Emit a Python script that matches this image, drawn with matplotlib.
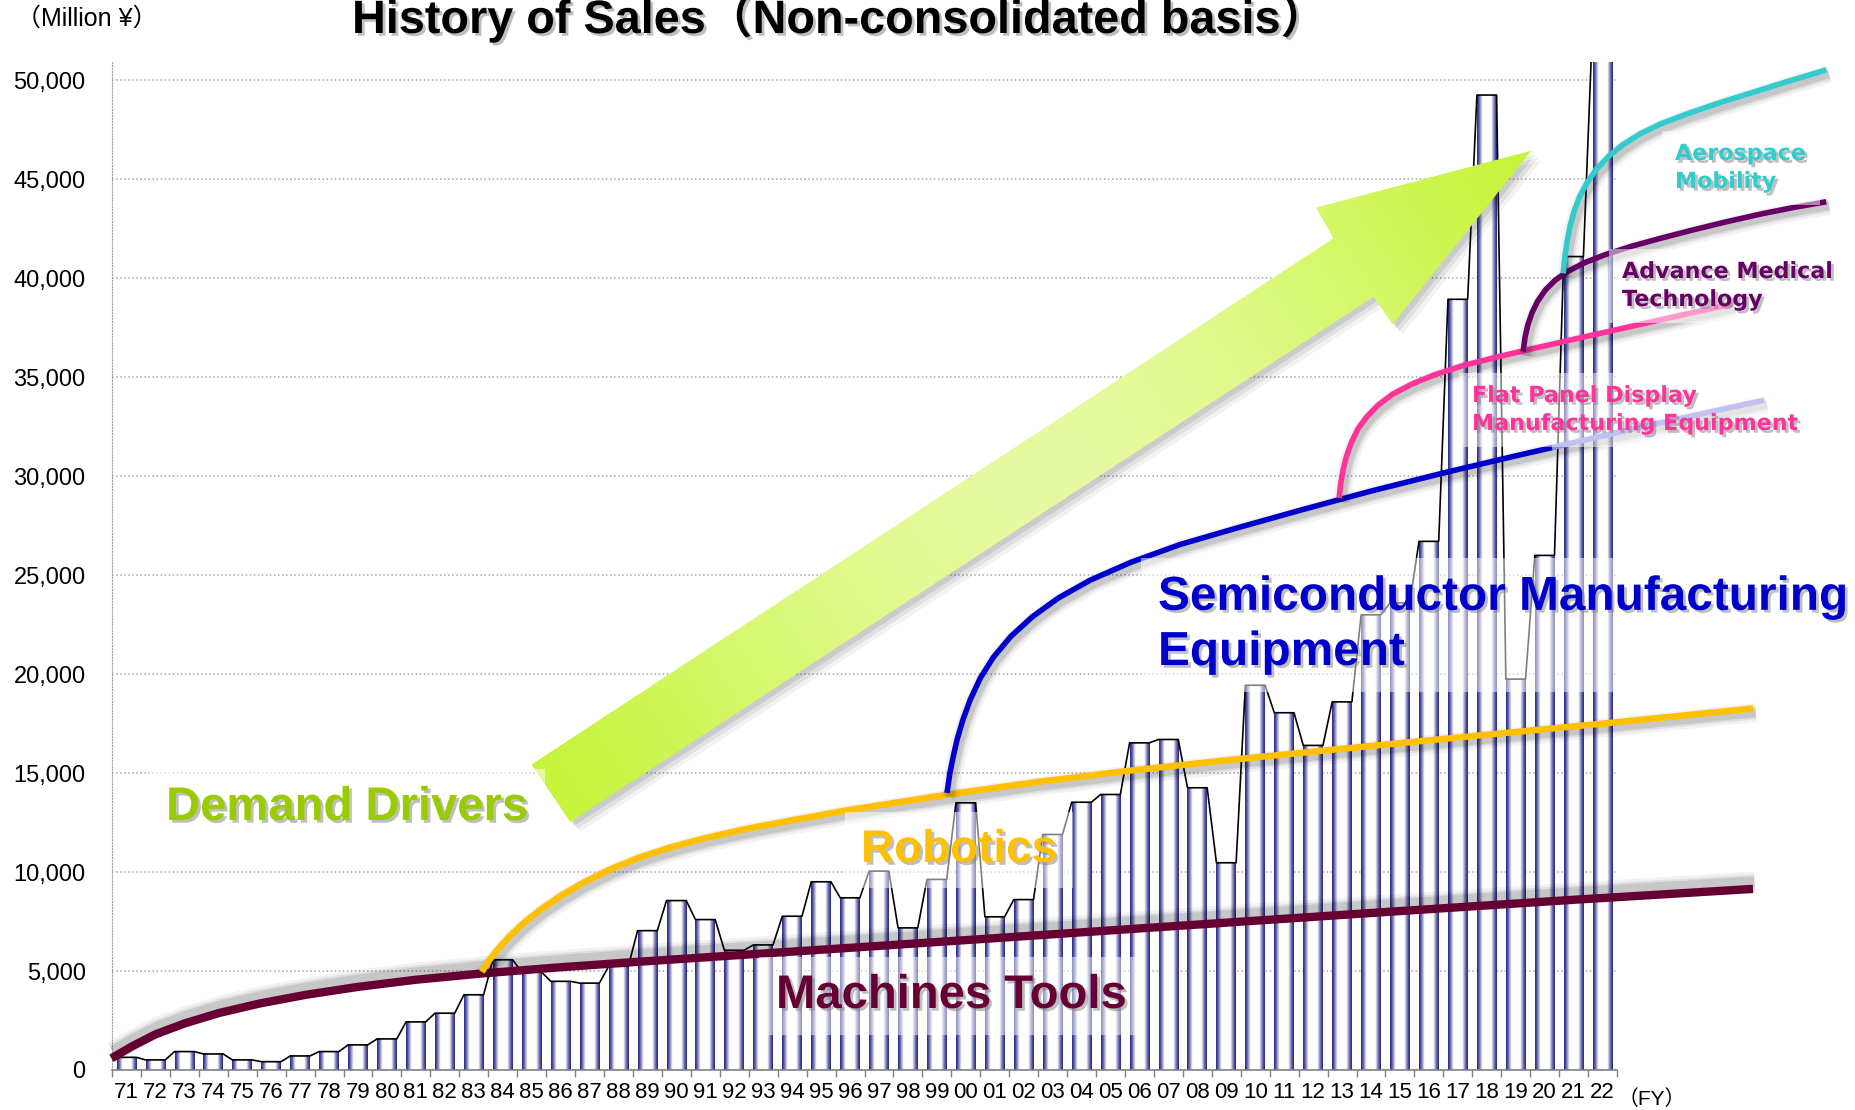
import numpy as np
import matplotlib
matplotlib.use("Agg")
import matplotlib.pyplot as plt
import matplotlib.patheffects as pe
from matplotlib import font_manager
from matplotlib.colors import LinearSegmentedColormap, to_rgb
from matplotlib.patches import Polygon

# fiscal years and non-consolidated sales (million yen)
years = ['71', '72', '73', '74', '75', '76', '77', '78', '79', '80',
         '81', '82', '83', '84', '85', '86', '87', '88', '89', '90',
         '91', '92', '93', '94', '95', '96', '97', '98', '99', '00',
         '01', '02', '03', '04', '05', '06', '07', '08', '09', '10',
         '11', '12', '13', '14', '15', '16', '17', '18', '19', '20',
         '21', '22']
sales = [640, 510, 930, 810, 510, 420, 710, 930, 1270, 1570,
         2430, 2870, 3800, 5570, 4950, 4480, 4390, 5240, 7040, 8560,
         7600, 6050, 6320, 7770, 9510, 8700, 10050, 7180, 9630, 13500,
         7740, 8610, 11900, 13530, 13920, 16530, 16700, 14260, 10470, 19440,
         18050, 16400, 18600, 23000, 23600, 26710, 38940, 49260, 19750, 26000,
         41100, 53000]

# hand drawn business-field curves: (category position, million yen)
machine_x = [-0.52, 0.2, 1.0, 2.0, 3.2, 4.6, 6.2, 8.0, 10.0, 12.3, 14.8, 17.5, 21.0, 25.17, 30.0, 36.0, 44.0, 50.0, 56.2]
machine_y = [590, 1200, 1800, 2350, 2880, 3360, 3800, 4200, 4560, 4880, 5170, 5450, 5790, 6190, 6660, 7250, 8030, 8600, 9150]

robot_x = [12.28, 12.5, 12.8, 13.2, 13.7, 14.3, 15.0, 15.8, 16.7, 17.7, 18.8, 20.0, 21.4, 23.0, 24.8, 26.8, 29.0, 31.5, 34.5, 38.0, 42.0, 46.5, 51.2, 56.2]
robot_y = [4950, 5480, 6050, 6700, 7400, 8100, 8800, 9480, 10130, 10730, 11250, 11720, 12180, 12620, 13100, 13560, 14050, 14560, 15100, 15650, 16230, 16870, 17530, 18270]

semi_x = [28.35, 28.45, 28.56, 28.7, 28.9, 29.15, 29.5, 29.95, 30.55, 31.3, 32.2, 33.3, 34.7, 36.4, 38.4, 40.6, 43.0, 45.6, 48.0, 49.26]
semi_y = [14000, 15000, 15800, 16700, 17700, 18700, 19800, 20850, 21900, 22900, 23850, 24750, 25650, 26550, 27400, 28300, 29250, 30200, 31030, 31450]
semi_ext_x = [49.26, 51.0, 53.0, 55.0, 56.58]
semi_ext_y = [31450, 32040, 32700, 33340, 33840]

fpd_x = [41.9, 41.95, 42.03, 42.15, 42.32, 42.55, 42.85, 43.25, 43.75, 44.4, 45.2, 46.2, 47.4, 48.8, 50.4, 52.2, 54.0, 55.48]
fpd_y = [28900, 29600, 30300, 31000, 31700, 32400, 33000, 33600, 34150, 34650, 35130, 35600, 36040, 36520, 37050, 37640, 38230, 38700]

medical_x = [48.26, 48.32, 48.42, 48.56, 48.76, 49.02, 49.36, 49.8, 50.4, 51.1, 52.0, 53.0, 54.0, 55.2, 56.5, 57.6, 58.73]
medical_y = [36300, 37000, 37650, 38250, 38850, 39400, 39900, 40350, 40800, 41200, 41620, 42020, 42400, 42830, 43260, 43580, 43870]

aero_x = [49.64, 49.7, 49.78, 49.88, 50.02, 50.2, 50.45, 50.78, 51.2, 51.7, 52.3, 53.0, 53.9, 55.0, 56.2, 57.4, 58.73]
aero_y = [40250, 41100, 41900, 42650, 43400, 44100, 44800, 45500, 46150, 46750, 47300, 47800, 48300, 48850, 49400, 49950, 50530]

yticks = list(range(0, 50001, 5000))

names = {f.name for f in font_manager.fontManager.ttflist}
narrow = 'Liberation Sans Narrow' if 'Liberation Sans Narrow' in names else 'Liberation Sans'
jp = ['Liberation Sans', 'Noto Sans CJK JP', 'DejaVu Sans']

W, H = 1855, 1110
fig = plt.figure(figsize=(W / 100, H / 100), dpi=100)
ax = fig.add_axes([112 / W, 1 - 1070 / H, 1505 / W, (1070 - 61.5) / H])

# cylinder-like bars: navy edges, white middle
t = np.linspace(0, 1, 64)
grad = (np.clip((1 - np.abs(2 * t - 1)) / 0.55, 0, 1) ** 1.3)[None, :]
bar_cmap = LinearSegmentedColormap.from_list('bar', ['#28288a', '#ffffff'])
bw = 0.68
x = np.arange(len(years))
for xi, v in zip(x, sales):
    ax.imshow(grad, extent=(xi - bw / 2, xi + bw / 2, 0, v), cmap=bar_cmap,
              vmin=0, vmax=1, aspect='auto', interpolation='bilinear', zorder=2)

# the thin line running over the bar tops
sx = np.column_stack([x - bw / 2, x + bw / 2]).ravel()
sy = np.repeat(sales, 2)
ax.plot(sx, sy, color='black', lw=1.2, zorder=3)


def soft_shadow(lw, off):
    fx = [pe.SimpleLineShadow(offset=off, shadow_color='k', alpha=a, linewidth=lw + w)
          for a, w in ((0.05, 9), (0.07, 5), (0.11, 2))]
    return fx + [pe.Normal()]


curves = [
    (machine_x, machine_y, '#660033', 6.0, (1, 5)),
    (robot_x, robot_y, '#ffc000', 4.6, (2, -3)),
    (semi_x, semi_y, '#0000cc', 4.0, (2, -3)),
    (semi_ext_x, semi_ext_y, '#8484e4', 4.0, (2, -3)),
    (fpd_x, fpd_y, '#ff3399', 4.0, (2, -3)),
    (medical_x, medical_y, '#660066', 4.0, (2, -3)),
    (aero_x, aero_y, '#33cccc', 4.0, (2, -3)),
]
for cx, cy, c, lw, off in curves:
    ax.plot(cx, cy, color=c, lw=lw, solid_capstyle='butt', solid_joinstyle='round',
            clip_on=False, zorder=4, path_effects=soft_shadow(lw, off))

ax.set_xlim(-0.5, len(years) - 0.5)
ax.set_ylim(0, 50955)
ax.set_axisbelow(True)
ax.yaxis.grid(True, color='#a6a6a6', linestyle=':', linewidth=1.1)
ax.set_yticks(yticks)
ax.set_yticklabels([f'{v:,}' for v in yticks], fontsize=17, family='Liberation Sans')
ax.set_xticks(x)
ax.set_xticklabels(years, fontsize=16, family=narrow)
ax.set_xticks(np.arange(-0.5, len(years)), minor=True)
ax.tick_params(axis='x', which='major', length=0, pad=9)
ax.tick_params(axis='x', which='minor', length=5, color='#808080', width=1)
ax.tick_params(axis='y', length=0, pad=19)
for s in ('top', 'right'):
    ax.spines[s].set_visible(False)
ax.spines['left'].set_linestyle(':')
ax.spines['left'].set_color('#a0a0a0')
ax.spines['bottom'].set_color('#808080')
ax.spines['bottom'].set_linewidth(1.2)

# overlay in pixel units for the arrow and the labels
ov = fig.add_axes([0, 0, 1, 1], zorder=3)
ov.patch.set_alpha(0)
ov.axis('off')

arrow_pts = np.array([(531.6, 764.5), (1333.5, 238.3), (1316.0, 207.6), (1531.5, 150.6),
                      (1392.5, 324.5), (1373.8, 296.6), (570.2, 821.9)])
for d, a in ((10, 0.05), (7, 0.07), (4, 0.09)):
    ov.add_patch(Polygon(arrow_pts + [d, d], closed=True, fc='k', ec='none', alpha=a, zorder=1))

tail = ((531.6 + 570.2) / 2, (764.5 + 821.9) / 2)
tip = arrow_pts[3]
gx = np.linspace(520, 1545, 400)
gy = np.linspace(140, 835, 300)
GX, GY = np.meshgrid(gx, gy)
ux, uy = tip[0] - tail[0], tip[1] - tail[1]
tt = np.clip(((GX - tail[0]) * ux + (GY - tail[1]) * uy) / (ux * ux + uy * uy), 0, 1)
wgt = np.sin(np.pi * tt) ** 1.3
sat = np.array(to_rgb('#c6f43a'))
pale = np.array(to_rgb('#e6fba0'))
img = sat + (pale - sat) * wgt[..., None]
im = ov.imshow(img, extent=(520, 1545, 835, 140), origin='upper', aspect='auto',
               interpolation='bilinear', zorder=2)
clip = Polygon(arrow_pts, closed=True, fc='none', ec='none', transform=ov.transData)
ov.add_patch(clip)
im.set_clip_path(clip)

txt_shadow = [pe.withSimplePatchShadow(offset=(2, -2), shadow_rgbFace='#808080', alpha=0.5)]

# text, left x, baseline of last line (pixels), colour, size, family, box pad, line spacing
labels = [
    ('Demand Drivers', 166, 820, '#99cc00', 34, 'Liberation Sans', 0.35, 1.2),
    ('Robotics', 861, 862, '#ffc000', 33, 'Liberation Sans', 0.35, 1.2),
    ('Machines Tools', 776, 1008, '#660033', 34, 'Liberation Sans', 0.35, 1.2),
    ('Semiconductor Manufacturing\nEquipment', 1158, 665, '#0000cc', 34.4, 'Liberation Sans', 0.35, 1.29),
    ('Flat Panel Display\nManufacturing Equipment', 1472, 430, '#ff3399', 16, 'DejaVu Sans', 0.6, 1.5),
    ('Advance Medical\nTechnology', 1622, 306, '#660066', 16, 'DejaVu Sans', 0.6, 1.5),
    ('Aerospace\nMobility', 1675, 188, '#33cccc', 16, 'DejaVu Sans', 0.6, 1.5),
]
for s, lx, ly, c, fs, fam, pad, ls in labels:
    b = dict(boxstyle=f'square,pad={pad}', fc='white', ec='none', alpha=0.5)
    ov.text(lx, ly, s, color=c, fontsize=fs, fontweight='bold', family=fam, linespacing=ls,
            ha='left', va='baseline', bbox=b, path_effects=txt_shadow, zorder=4)

ov.text(352, 33, 'History of Sales（Non-consolidated basis）', fontsize=33.7, fontweight='bold',
        family=jp, ha='left', va='baseline', path_effects=txt_shadow, zorder=4)
ov.text(16, 26, '（Million ¥）', fontsize=18, family=jp, ha='left', va='baseline')
ov.text(1652, 1105, '（FY）', fontsize=15, family=jp, ha='center', va='baseline')

ov.set_xlim(0, W)
ov.set_ylim(H, 0)

fig.savefig('out.png', dpi=100)
